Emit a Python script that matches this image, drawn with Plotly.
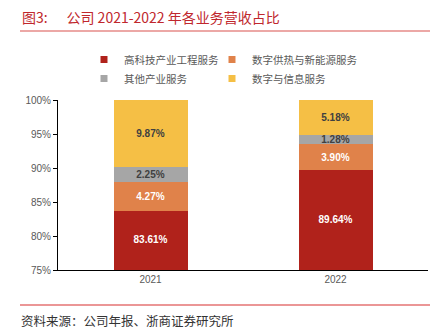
import plotly.graph_objects as go

years = ["2021", "2022"]
series_names = ["高科技产业工程服务", "数字供热与新能源服务", "其他产业服务", "数字与信息服务"]
hightech = [83.61, 89.64]
heating = [4.27, 3.90]
other = [2.25, 1.28]
digital = [9.87, 5.18]
series_values = [hightech, heating, other, digital]
colors = ["#B0221B", "#E0824A", "#A6A6A6", "#F5BF45"]
text_colors = ["#FFFFFF", "#FFFFFF", "#404040", "#404040"]
legend_slots = ["legend", "legend2", "legend", "legend2"]
y_ticks = [75, 80, 85, 90, 95, 100]
y_tick_labels = ["75%", "80%", "85%", "90%", "95%", "100%"]
y_min, y_max = y_ticks[0], y_ticks[-1]

label_font = dict(size=10, family="Liberation Sans")

fig = go.Figure()
for i, (name, vals, c, tc, lg) in enumerate(zip(series_names, series_values, colors, text_colors, legend_slots)):
    fig.add_trace(go.Bar(
        x=years, y=vals, name=name, legendgroup=name, showlegend=False,
        marker=dict(color=c, line=dict(width=0)),
        text=[f"{v:.2f}%" for v in vals] if i > 0 else None,
        textposition="inside" if i > 0 else "none", insidetextanchor="middle",
        textfont=dict(color=tc, **label_font),
        texttemplate="<b>%{text}</b>" if i > 0 else None,
        hoverinfo="skip",
    ))
    # legend entry with a small square symbol
    fig.add_trace(go.Scatter(
        x=[None], y=[None], name=name, legendgroup=name, legend=lg,
        mode="markers", marker=dict(symbol="square", size=7, color=c),
        hoverinfo="skip",
    ))

# label for the bottom series, centred on its visible part (axis starts at 75%)
fig.add_trace(go.Scatter(
    x=years, y=[(y_min + v) / 2 for v in hightech],
    mode="text", text=[f"<b>{v:.2f}%</b>" for v in hightech],
    textposition="middle center", textfont=dict(color=text_colors[0], **label_font),
    showlegend=False, hoverinfo="skip",
))

W, H = 439, 331
L, R, T, B = 58, 11, 100, 61
pw, ph = W - L - R, H - T - B

def px_x(p):
    return (p - L) / pw

def px_y(p):
    return (H - B - p) / ph

legend_font = dict(size=10.5, color="#595959", family="Noto Sans CJK SC")
nb = "\u00a0"

fig.update_layout(
    width=W, height=H,
    margin=dict(l=L, r=R, t=T, b=B, autoexpand=False),
    paper_bgcolor="white", plot_bgcolor="white",
    barmode="stack", bargap=0.6,
    uniformtext=dict(minsize=10, mode="show"),
    font=dict(family="Noto Sans CJK SC, Liberation Sans", color="#595959"),
    showlegend=True,
    legend=dict(
        orientation="v", xref="container", yref="container",
        x=84 / W, xanchor="left", y=1 - 45 / H, yanchor="top",
        itemwidth=30, font=legend_font, bgcolor="rgba(0,0,0,0)",
        traceorder="normal", tracegroupgap=2,
    ),
    legend2=dict(
        orientation="v", xref="container", yref="container",
        x=212 / W, xanchor="left", y=1 - 45 / H, yanchor="top",
        itemwidth=30, font=legend_font, bgcolor="rgba(0,0,0,0)",
        traceorder="normal", tracegroupgap=2,
    ),
    xaxis=dict(
        showline=True, linecolor="#000000", linewidth=1, ticks="",
        showgrid=False, tickfont=dict(size=10, color="#595959", family="Liberation Sans"),
        fixedrange=True,
    ),
    yaxis=dict(
        range=[y_min, y_max], tickvals=y_ticks, ticktext=y_tick_labels,
        showline=True, linecolor="#000000", linewidth=1,
        ticks="outside", ticklen=4, tickcolor="#000000",
        showgrid=False, zeroline=False,
        tickfont=dict(size=10, color="#595959", family="Liberation Sans"),
        fixedrange=True,
    ),
    shapes=[
        dict(type="line", xref="paper", yref="paper", x0=px_x(20), x1=px_x(430),
             y0=px_y(31), y1=px_y(31), line=dict(color="#D9534F", width=1.2)),
        dict(type="line", xref="paper", yref="paper", x0=px_x(20), x1=px_x(430),
             y0=px_y(305), y1=px_y(305), line=dict(color="#E57373", width=1.5)),
    ],
    annotations=[
        dict(text="图3:" + nb * 6 + "公司 2021-2022 年各业务营收占比", xref="paper", yref="paper",
             x=px_x(20), y=px_y(17), xanchor="left", yanchor="middle", showarrow=False,
             font=dict(size=14, color="#C0272D", family="Noto Sans CJK SC")),
        dict(text="资料来源：公司年报、浙商证券研究所", xref="paper", yref="paper",
             x=px_x(19), y=px_y(320), xanchor="left", yanchor="middle", showarrow=False,
             font=dict(size=12.5, color="#333333", family="Noto Sans CJK SC")),
    ],
)

fig.write_html("out.html")
